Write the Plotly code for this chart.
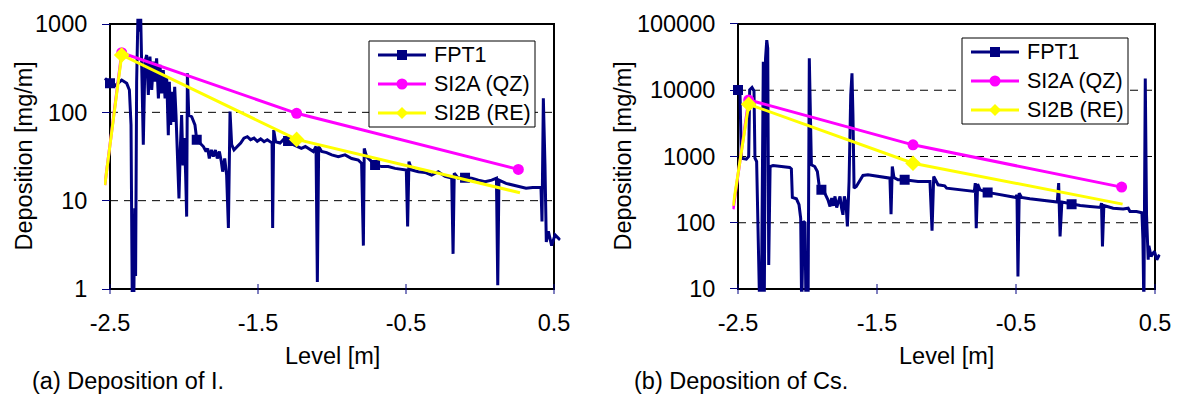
import plotly.graph_objects as go

W, H = 1178, 394
FONT = "Arial, Liberation Sans, sans-serif"
NAVY, PINK, YELLOW = "#000080", "#FF00FF", "#FFFF00"
TXT = 23.5      # axis text size
LEG_TXT = 21.5  # legend text size

# ---------------- (a) Iodine deposition ----------------
fpt1_i_level = [
    -2.534, -2.500, -2.466, -2.421, -2.387, -2.369, -2.358, -2.349, -2.340, -2.333,
    -2.327, -2.320, -2.311, -2.302, -2.293, -2.284, -2.275, -2.264, -2.252, -2.241,
    -2.230, -2.218, -2.207, -2.196, -2.185, -2.173, -2.162, -2.151, -2.140, -2.128,
    -2.117, -2.106, -2.099, -2.090, -2.081, -2.072, -2.063, -2.054, -2.043, -2.034,
    -2.025, -2.016, -2.007, -1.998, -1.989, -1.982, -1.977, -1.968, -1.948, -1.926,
    -1.914, -1.892, -1.869, -1.851, -1.840, -1.829, -1.815, -1.802, -1.788, -1.775,
    -1.761, -1.748, -1.739, -1.725, -1.712, -1.700, -1.689, -1.678, -1.662, -1.640,
    -1.617, -1.595, -1.572, -1.550, -1.527, -1.505, -1.482, -1.459, -1.437, -1.414,
    -1.405, -1.401, -1.394, -1.381, -1.351, -1.329, -1.297, -1.261, -1.234, -1.207,
    -1.180, -1.153, -1.126, -1.108, -1.099, -1.090, -1.070, -1.036, -1.014, -1.002,
    -0.957, -0.912, -0.867, -0.822, -0.800, -0.788, -0.782, -0.766, -0.732, -0.709,
    -0.664, -0.620, -0.574, -0.530, -0.498, -0.489, -0.480, -0.462, -0.417, -0.372,
    -0.327, -0.282, -0.236, -0.191, -0.182, -0.174, -0.147, -0.101, -0.056, -0.011,
    0.034, 0.079, 0.111, 0.120, 0.128, 0.176, 0.221, 0.266, 0.311, 0.356,
    0.412, 0.419, 0.428, 0.439, 0.448, 0.462, 0.484, 0.507, 0.541,
]
fpt1_i_dep = [
    243, 213, 200, 232, 213, 179, 72, 0.5, 0.5, 8.2,
    1.4, 222, 1300, 820, 1300, 222, 43, 375, 446, 157,
    427, 179, 375, 222, 408, 144, 344, 164, 301, 144,
    253, 55, 222, 72, 171, 78, 195, 93, 33, 10.6,
    39, 93, 25, 51, 19.5, 6.6, 277, 93, 89, 72,
    49, 45, 41, 36, 39, 30, 37.5, 31.5, 37.5, 30,
    36, 27.7, 21.3, 30, 19.5, 4.9, 102, 43, 37.5, 41,
    45, 51, 53, 49, 51, 47, 50, 46.5, 49, 46,
    45, 4.9, 63, 46.5, 45, 49, 47.5, 43, 41, 39,
    41, 38.5, 36, 41, 1.2, 41, 36, 35, 33.5, 33,
    31.5, 33, 30, 28.8, 26.5, 3.1, 39, 31.5, 27.7, 25.4,
    24.3, 24.3, 23.2, 22.8, 22.2, 5.1, 27.7, 22.2, 21.3, 20.9,
    19.5, 21.3, 18.8, 18.0, 2.5, 20.4, 18.0, 18.2, 18.0, 17.1,
    16.4, 17.1, 18.0, 1.1, 17.1, 15.7, 15.0, 14.4, 13.8, 14.1,
    14.1, 5.8, 144, 25.4, 3.4, 4.5, 3.1, 4.1, 3.6,
]
fpt1_i_marks = [1, 50, 86, 109, 127]

si2a_i_level = [-2.535, -2.421, -1.239, 0.259]
si2a_i_dep = [15, 473, 97.5, 22.6]
si2a_i_marks = [1, 2, 3]

si2b_i_level = [-2.535, -2.421, -1.239, 0.270]
si2b_i_dep = [15, 446, 49.4, 12.3]
si2b_i_marks = [1, 2]

# ---------------- (b) Caesium deposition ----------------
fpt1_cs_level = [
    -2.529, -2.500, -2.486, -2.476, -2.440, -2.423, -2.416, -2.399, -2.385, -2.378,
    -2.366, -2.356, -2.344, -2.332, -2.325, -2.318, -2.311, -2.302, -2.293, -2.286,
    -2.279, -2.269, -2.248, -2.188, -2.128, -2.116, -2.109, -2.080, -2.061, -2.049,
    -2.042, -2.030, -2.018, -2.011, -1.996, -1.987, -1.980, -1.972, -1.948, -1.929,
    -1.917, -1.900, -1.876, -1.853, -1.838, -1.826, -1.814, -1.802, -1.790, -1.778,
    -1.766, -1.754, -1.745, -1.735, -1.723, -1.713, -1.701, -1.689, -1.680, -1.673,
    -1.665, -1.649, -1.625, -1.601, -1.565, -1.517, -1.469, -1.421, -1.407, -1.399,
    -1.390, -1.378, -1.349, -1.301, -1.253, -1.205, -1.157, -1.119, -1.104, -1.092,
    -1.061, -1.013, -0.999, -0.927, -0.855, -0.800, -0.793, -0.786, -0.776, -0.759,
    -0.704, -0.640, -0.567, -0.500, -0.493, -0.486, -0.477, -0.460, -0.400, -0.327,
    -0.255, -0.203, -0.193, -0.183, -0.170, -0.100, -0.038, 0.032, 0.108, 0.115,
    0.122, 0.132, 0.199, 0.271, 0.307, 0.320, 0.367, 0.406, 0.413, 0.420,
    0.430, 0.439, 0.451, 0.456, 0.472, 0.496, 0.513, 0.532,
]
fpt1_cs_dep = [
    10100, 10100, 9800, 944, 912, 1000, 10100, 11000, 9800, 944,
    841, 132, 5, 5, 166, 27000, 5, 30000, 57000, 43000,
    23, 706, 731, 706, 683, 651, 241, 230, 187, 117,
    5, 105, 100, 5, 5, 30300, 4250, 748, 706, 594,
    374, 314, 280, 222, 176, 236, 180, 250, 170, 210,
    250, 163, 132, 250, 198, 88, 420, 8500, 18000, 4250,
    333, 353, 420, 517, 530, 512, 488, 471, 471, 135,
    706, 482, 445, 445, 430, 420, 420, 420, 76, 499,
    374, 361, 333, 322, 307, 297, 396, 83, 383, 314,
    287, 270, 255, 241, 264, 15.5, 280, 241, 230, 220,
    210, 205, 396, 62, 205, 191, 182, 176, 170, 198,
    44, 182, 166, 161, 166, 148, 148, 142, 57, 5,
    15100, 132, 27.7, 45, 31, 37, 27.7, 33,
]
fpt1_cs_marks = [1, 41, 73, 90, 105]

si2a_cs_level = [-2.535, -2.423, -1.241, 0.260]
si2a_cs_dep = [160, 7150, 1500, 345]
si2a_cs_marks = [1, 2, 3]

si2b_cs_level = [-2.535, -2.423, -1.241, 0.267]
si2b_cs_dep = [180, 6150, 793, 191]
si2b_cs_marks = [1, 2]

# ---------------- axes ----------------
level_ticks = [-2.5, -1.5, -0.5, 0.5]
level_ticktext = ["-2.5", "-1.5", "-0.5", "0.5"]
i_ticks = [1, 10, 100, 1000]
i_ticktext = ["1", "10", "100", "1000"]
i_grid = [10, 100]
cs_ticks = [10, 100, 1000, 10000, 100000]
cs_ticktext = ["10", "100", "1000", "10000", "100000"]
cs_grid = [100, 1000, 10000]

series_names = ["FPT1", "SI2A (QZ)", "SI2B (RE)"]
series_styles = [  # colour, symbol, marker size, line width
    (NAVY, "square", 10, 3),
    (PINK, "circle", 11, 3),
    (YELLOW, "diamond", 12, 3),
]


def panel_geometry(frame_px, x_frame, x_range, y_frame, y_range):
    """Domains so that the frame box lands on frame_px while the axes keep some
    room around it for lines that run past the frame."""
    left, top, right, bottom = frame_px
    ppx = (right - left) / (x_frame[1] - x_frame[0])
    px0 = left - (x_frame[0] - x_range[0]) * ppx
    px1 = right + (x_range[1] - x_frame[1]) * ppx
    ppy = (bottom - top) / (y_frame[1] - y_frame[0])
    py_top = top - (y_range[1] - y_frame[1]) * ppy
    py_bot = bottom + (y_frame[0] - y_range[0]) * ppy
    return dict(
        xdomain=[px0 / W, px1 / W],
        ydomain=[1 - py_bot / H, 1 - py_top / H],
        yaxis_pos=left / W,
        xaxis_pos=1 - bottom / H,
    )


def px(x, y):
    """Pixel position on the page -> paper coordinates."""
    return x / W, 1 - y / H


def legend_box(left, top, shapes, annotations):
    """Boxed legend with a line sample, a marker and a label per series."""
    bw, bh = 166, 86
    x0, y0 = px(left, top)
    x1, y1 = px(left + bw, top + bh)
    shapes.append(dict(type="rect", xref="paper", yref="paper", x0=x0, x1=x1, y0=y1, y1=y0,
                       line=dict(color="black", width=1), fillcolor="white", layer="above"))
    for row, (name, (color, symbol, msize, lw)) in enumerate(zip(series_names, series_styles)):
        cy = top + 14 + row * 29
        lx0, ly = px(left + 9, cy)
        lx1, _ = px(left + 57, cy)
        shapes.append(dict(type="line", xref="paper", yref="paper", x0=lx0, x1=lx1, y0=ly, y1=ly,
                           line=dict(color=color, width=lw), layer="above"))
        cx = left + 33
        r = msize / 2
        if symbol == "circle":
            a, b = px(cx - r, cy - r)
            c, d = px(cx + r, cy + r)
            shapes.append(dict(type="circle", xref="paper", yref="paper", x0=a, x1=c, y0=d, y1=b,
                               line=dict(width=0), fillcolor=color, layer="above"))
        elif symbol == "square":
            a, b = px(cx - r, cy - r)
            c, d = px(cx + r, cy + r)
            shapes.append(dict(type="rect", xref="paper", yref="paper", x0=a, x1=c, y0=d, y1=b,
                               line=dict(width=0), fillcolor=color, layer="above"))
        else:
            pts = [px(cx, cy - r), px(cx + r, cy), px(cx, cy + r), px(cx - r, cy)]
            path = "M" + " L".join(f"{u:.5f},{v:.5f}" for u, v in pts) + " Z"
            shapes.append(dict(type="path", xref="paper", yref="paper", path=path,
                               line=dict(width=0), fillcolor=color, layer="above"))
        tx, ty = px(left + 63, cy)
        annotations.append(dict(text=name, xref="paper", yref="paper", x=tx, y=ty,
                                xanchor="left", yanchor="middle", showarrow=False,
                                font=dict(family=FONT, size=LEG_TXT, color="black")))


panels = [
    dict(
        frame_px=(110, 24, 554, 289), x_frame=[-2.5, 0.5], x_range=[-2.54, 0.545],
        y_frame=[0, 3], y_range=[-0.035, 3.06],
        ticks=i_ticks, ticktext=i_ticktext, grid=i_grid,
        series=[(fpt1_i_level, fpt1_i_dep, fpt1_i_marks),
                (si2a_i_level, si2a_i_dep, si2a_i_marks),
                (si2b_i_level, si2b_i_dep, si2b_i_marks)],
        legend_xy=(369, 41),
        ytitle_x=23, caption="(a) Deposition of I.", caption_x=30,
    ),
    dict(
        frame_px=(738, 24, 1155, 289), x_frame=[-2.5, 0.5], x_range=[-2.54, 0.54],
        y_frame=[1, 5], y_range=[0.96, 5.02],
        ticks=cs_ticks, ticktext=cs_ticktext, grid=cs_grid,
        series=[(fpt1_cs_level, fpt1_cs_dep, fpt1_cs_marks),
                (si2a_cs_level, si2a_cs_dep, si2a_cs_marks),
                (si2b_cs_level, si2b_cs_dep, si2b_cs_marks)],
        legend_xy=(962, 38),
        ytitle_x=622, caption="(b) Deposition of Cs.", caption_x=632,
    ),
]

fig = go.Figure()
shapes, annotations = [], []
layout = {}

for k, p in enumerate(panels, start=1):
    sfx = "" if k == 1 else str(k)
    xa, ya = "x" + sfx, "y" + sfx
    g = panel_geometry(p["frame_px"], p["x_frame"], p["x_range"], p["y_frame"], p["y_range"])

    for (lv, dep, marks), (color, symbol, msize, lw) in zip(p["series"], series_styles):
        fig.add_trace(go.Scatter(
            x=lv, y=dep, mode="lines", xaxis=xa, yaxis=ya,
            line=dict(color=color, width=lw), showlegend=False, hoverinfo="skip",
        ))
        fig.add_trace(go.Scatter(
            x=[lv[i] for i in marks], y=[dep[i] for i in marks], mode="markers",
            xaxis=xa, yaxis=ya, showlegend=False, hoverinfo="skip",
            marker=dict(symbol=symbol, size=msize, color=color, line=dict(width=0)),
        ))

    layout["xaxis" + sfx] = dict(
        domain=g["xdomain"], range=p["x_range"], anchor="free", position=g["xaxis_pos"],
        showgrid=False, zeroline=False, showline=False, ticks="",
        tickmode="array", tickvals=level_ticks, ticktext=level_ticktext,
        tickfont=dict(family=FONT, size=TXT, color="black"), ticklabelstandoff=17,
    )
    layout["yaxis" + sfx] = dict(
        domain=g["ydomain"], type="log", range=p["y_range"], anchor="free",
        position=g["yaxis_pos"], showgrid=False, zeroline=False, showline=False,
        ticks="outside", ticklen=8, tickwidth=1, tickcolor=NAVY,
        tickmode="array", tickvals=p["ticks"], ticktext=p["ticktext"],
        tickfont=dict(family=FONT, size=TXT, color="black"), ticklabelstandoff=10,
    )

    x0, x1 = p["x_frame"]
    y0, y1 = 10 ** p["y_frame"][0], 10 ** p["y_frame"][1]
    for gv in p["grid"]:
        shapes.append(dict(type="line", xref=xa, yref=ya, x0=x0, x1=x1, y0=gv, y1=gv,
                           line=dict(color="black", width=1, dash="8px,6px"), layer="below"))
    shapes.append(dict(type="rect", xref=xa, yref=ya, x0=x0, x1=x1, y0=y0, y1=y1,
                       line=dict(color="black", width=2), layer="below"))
    fb = g["xaxis_pos"]
    for tv in level_ticks:
        shapes.append(dict(type="line", xref=xa, yref="paper", x0=tv, x1=tv,
                           y0=fb - 5 / H, y1=fb + 5 / H,
                           line=dict(color=NAVY, width=1), layer="above"))

    legend_box(*p["legend_xy"], shapes, annotations)

    left, top, right, bottom = p["frame_px"]
    annotations.append(dict(text="Deposition [mg/m]", xref="paper", yref="paper",
                            x=p["ytitle_x"] / W, y=1 - (top + bottom) / 2 / H, textangle=-90,
                            showarrow=False, xanchor="center", yanchor="middle",
                            font=dict(family=FONT, size=TXT, color="black")))
    annotations.append(dict(text="Level [m]", xref="paper", yref="paper",
                            x=(left + right) / 2 / W, y=1 - 356 / H,
                            showarrow=False, xanchor="center", yanchor="middle",
                            font=dict(family=FONT, size=TXT, color="black")))
    annotations.append(dict(text=p["caption"], xref="paper", yref="paper",
                            x=p["caption_x"] / W, y=1 - 381 / H,
                            showarrow=False, xanchor="left", yanchor="middle",
                            font=dict(family=FONT, size=TXT, color="black")))

fig.update_layout(
    width=W, height=H, margin=dict(l=0, r=0, t=0, b=0, autoexpand=False),
    paper_bgcolor="white", plot_bgcolor="white", showlegend=False,
    font=dict(family=FONT, color="black"),
    shapes=shapes, annotations=annotations, **layout,
)

fig.write_html("out.html")
